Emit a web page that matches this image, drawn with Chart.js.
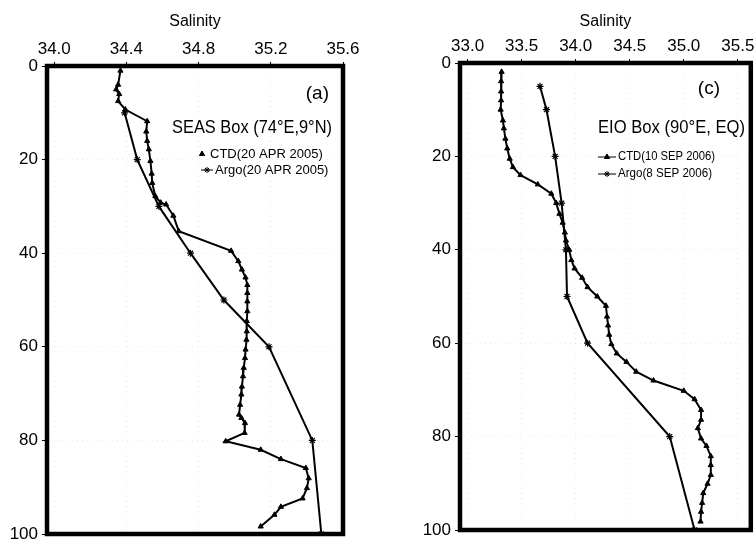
<!DOCTYPE html>
<html>
<head>
<meta charset="utf-8">
<script src="https://cdn.jsdelivr.net/npm/chart.js"></script>
<style>
  html, body { margin: 0; padding: 0; background: #fff; }
  #wrap { position: relative; width: 756px; height: 542px; overflow: hidden; }
  .panel { position: absolute; top: 0; width: 378px; height: 542px; }
</style>
</head>
<body>
<div id="wrap">
  <div class="panel" style="left:0"><canvas id="seasChart" width="378" height="542"></canvas></div>
  <div class="panel" style="left:378px"><canvas id="eioChart" width="378" height="542"></canvas></div>
</div>
<script>
// values (salinity vs depth in m)

// (a) SEAS box
const seasCtdDepth = [1, 4, 5, 6, 7.5, 9.3, 11.8, 14, 16, 17.8, 20.3, 23, 25, 27.8, 29.2, 29.6, 32, 35.3, 39.5, 41.7,
  43.5, 45.2, 46.8, 48.5, 50.3, 52.4, 54.5, 56.7, 58.5, 60.6, 62.4, 64.5, 66.3, 68.5, 70.2, 72.4, 74.5, 75.2, 76.3, 78.4,
  80.2, 82, 84, 85.9, 88.1, 90.2, 92.4, 94.2, 95.9, 98.4];
const seasCtdSal = [34.367, 34.354, 34.343, 34.36, 34.354, 34.394, 34.515, 34.51, 34.515, 34.524, 34.533, 34.54, 34.543, 34.56, 34.59, 34.62, 34.66, 34.69, 34.98, 35.02,
  35.04, 35.06, 35.07, 35.07, 35.07, 35.07, 35.067, 35.067, 35.065, 35.06, 35.057, 35.05, 35.046, 35.04, 35.037, 35.03, 35.024, 35.037, 35.057, 35.055,
  34.95, 35.144, 35.256, 35.394, 35.41, 35.40, 35.376, 35.256, 35.22, 35.144];
const seasArgoDepth = [10, 20, 30, 40, 50, 60, 80, 100];
const seasArgoSal = [34.39, 34.46, 34.58, 34.755, 34.94, 35.19, 35.43, 35.48];
const seasSalTicks = [34.0, 34.4, 34.8, 35.2, 35.6];

// (c) EIO box
const eioCtdDepth = [1.9, 3.9, 6.1, 8, 10, 12.3, 14, 16.2, 18.3, 20.5, 22.3, 24, 26, 28, 30, 32.3, 34.2, 36.3, 38, 40,
  42.2, 44, 46, 48, 50, 52, 54.3, 56.2, 58.2, 60.2, 62.2, 64, 66.1, 68, 70.2, 72, 74.3, 76.4, 78.2, 80.4,
  82, 84.2, 86.1, 88.2, 90.1, 92.1, 94.2, 96.1, 98.2];
const eioCtdSal = [33.315, 33.31, 33.31, 33.31, 33.306, 33.327, 33.336, 33.35, 33.367, 33.39, 33.42, 33.49, 33.65, 33.775, 33.82, 33.85, 33.88, 33.90, 33.91, 33.94,
  33.96, 33.99, 34.06, 34.11, 34.20, 34.28, 34.29, 34.30, 34.31, 34.33, 34.38, 34.47, 34.56, 34.72, 35.00, 35.10, 35.16, 35.16, 35.13, 35.16,
  35.21, 35.25, 35.25, 35.25, 35.22, 35.18, 35.17, 35.16, 35.155];
const eioArgoDepth = [5, 10, 20, 30, 40, 50, 60, 80, 100];
const eioArgoSal = [33.67, 33.73, 33.81, 33.87, 33.91, 33.92, 34.11, 34.87, 35.10];
const eioSalTicks = [33.0, 33.5, 34.0, 34.5, 35.0, 35.5];

const depthTicks = [0, 20, 40, 60, 80, 100];

const FONT = '"Liberation Sans", Arial, Helvetica, sans-serif';
Chart.defaults.font.family = FONT;
Chart.defaults.color = '#000';

const toPoints = (sal, depth) => sal.map((s, i) => ({ x: s, y: depth[i] }));

// thick frame round the plot area
const frame = {
  id: 'frame',
  afterDatasetsDraw(chart) {
    const { ctx, chartArea: a } = chart;
    ctx.save();
    ctx.lineWidth = 4.5;
    ctx.strokeStyle = '#000';
    ctx.strokeRect(a.left, a.top, a.right - a.left, a.bottom - a.top);
    ctx.restore();
  }
};

// panel tag, box name and the little legend inside the plot
const notes = {
  id: 'notes',
  afterDraw(chart, args, o) {
    const ctx = chart.ctx;
    ctx.save();
    ctx.fillStyle = '#000';
    ctx.strokeStyle = '#000';
    ctx.textBaseline = 'middle';
    o.texts.forEach(t => {
      ctx.font = t.size + 'px ' + FONT;
      ctx.textAlign = t.align || 'left';
      ctx.fillText(t.text, t.x, t.y, t.w);
    });
    ctx.textAlign = 'left';
    o.keys.forEach((k, i) => {
      const ds = chart.data.datasets[i];
      const mx = k.x + k.len / 2;
      if (k.line) {
        ctx.lineWidth = 1;
        ctx.beginPath();
        ctx.moveTo(k.x, k.y);
        ctx.lineTo(k.x + k.len, k.y);
        ctx.stroke();
      }
      Chart.helpers.drawPoint(ctx, { pointStyle: ds.pointStyle, radius: 3, rotation: 0, borderWidth: 1 }, mx, k.y);
      ctx.fill();
      ctx.font = k.size + 'px ' + FONT;
      ctx.fillText(ds.label, k.x + k.len + 2, k.y, k.w);
    });
    ctx.restore();
  }
};

function makeChart(id, p) {
  const W = 378, H = 542;
  return new Chart(document.getElementById(id), {
    type: 'scatter',
    data: {
      datasets: [{
        label: p.ctdLabel,
        data: toPoints(p.ctdSal, p.ctdDepth),
        showLine: true,
        borderColor: '#000',
        borderWidth: 2,
        pointStyle: 'triangle',
        pointRadius: 3,
        pointBorderWidth: 1,
        pointBackgroundColor: '#000',
        pointBorderColor: '#000'
      }, {
        label: p.argoLabel,
        data: toPoints(p.argoSal, p.argoDepth),
        showLine: true,
        borderColor: '#000',
        borderWidth: 2,
        pointStyle: 'star',
        pointRadius: 3.5,
        pointBorderWidth: 1.2,
        pointBackgroundColor: '#000',
        pointBorderColor: '#000'
      }]
    },
    plugins: [frame, notes],
    options: {
      responsive: false,
      animation: false,
      layout: { padding: { left: 0, top: 0, right: W - p.box.right, bottom: H - p.box.bottom } },
      scales: {
        x: {
          type: 'linear',
          position: 'top',
          min: p.xMin,
          max: p.xMax,
          afterBuildTicks: s => { s.ticks = p.salTicks.map(v => ({ value: v })); },
          afterFit: s => { s.height = p.box.top; s.paddingLeft = 0; s.paddingRight = 0; },
          ticks: { font: { size: 17 }, padding: 2, autoSkip: false, maxRotation: 0, callback: v => v.toFixed(1) },
          grid: { color: 'rgba(0,0,0,0.08)', tickColor: '#000', tickLength: 4 },
          border: { display: false, dash: [1, 4] },
          title: { display: true, text: 'Salinity', font: { size: 16 }, padding: { top: 12, bottom: 0 } }
        },
        y: {
          type: 'linear',
          reverse: true,
          min: 0,
          max: 100,
          afterBuildTicks: s => { s.ticks = depthTicks.map(v => ({ value: v })); },
          afterFit: s => { s.width = p.box.left; s.paddingTop = 0; s.paddingBottom = 0; },
          ticks: { font: { size: 17 }, padding: 4 },
          grid: { color: 'rgba(0,0,0,0.08)', tickColor: '#000', tickLength: 5 },
          border: { display: false, dash: [1, 4] }
        }
      },
      plugins: {
        legend: { display: false },
        tooltip: { enabled: false },
        notes: p.notes
      }
    }
  });
}

makeChart('seasChart', {
  ctdLabel: 'CTD(20 APR 2005)',
  argoLabel: 'Argo(20 APR 2005)',
  ctdSal: seasCtdSal, ctdDepth: seasCtdDepth,
  argoSal: seasArgoSal, argoDepth: seasArgoDepth,
  salTicks: seasSalTicks,
  xMin: 33.96, xMax: 35.6,
  box: { left: 47, top: 66, right: 343, bottom: 534 },
  notes: {
    texts: [
      { text: '(a)', x: 329, y: 94, size: 19, align: 'right' },
      { text: 'SEAS Box (74°E,9°N)', x: 332, y: 128, size: 18, align: 'right', w: 160 }
    ],
    keys: [
      { x: 196, y: 154, len: 12, line: false, size: 13, w: 120 },
      { x: 201, y: 170, len: 12, line: true, size: 13, w: 116 }
    ]
  }
});

makeChart('eioChart', {
  ctdLabel: 'CTD(10 SEP 2006)',
  argoLabel: 'Argo(8 SEP 2006)',
  ctdSal: eioCtdSal, ctdDepth: eioCtdDepth,
  argoSal: eioArgoSal, argoDepth: eioArgoDepth,
  salTicks: eioSalTicks,
  xMin: 32.93, xMax: 35.62,
  box: { left: 82, top: 63, right: 376, bottom: 530 },
  notes: {
    texts: [
      { text: '(c)', x: 342, y: 89, size: 19, align: 'right' },
      { text: 'EIO Box (90°E, EQ)', x: 367, y: 128, size: 18, align: 'right', w: 147 }
    ],
    keys: [
      { x: 220, y: 157, len: 18, line: true, size: 12, w: 97 },
      { x: 220, y: 174, len: 18, line: true, size: 12, w: 94 }
    ]
  }
});
</script>
</body>
</html>
